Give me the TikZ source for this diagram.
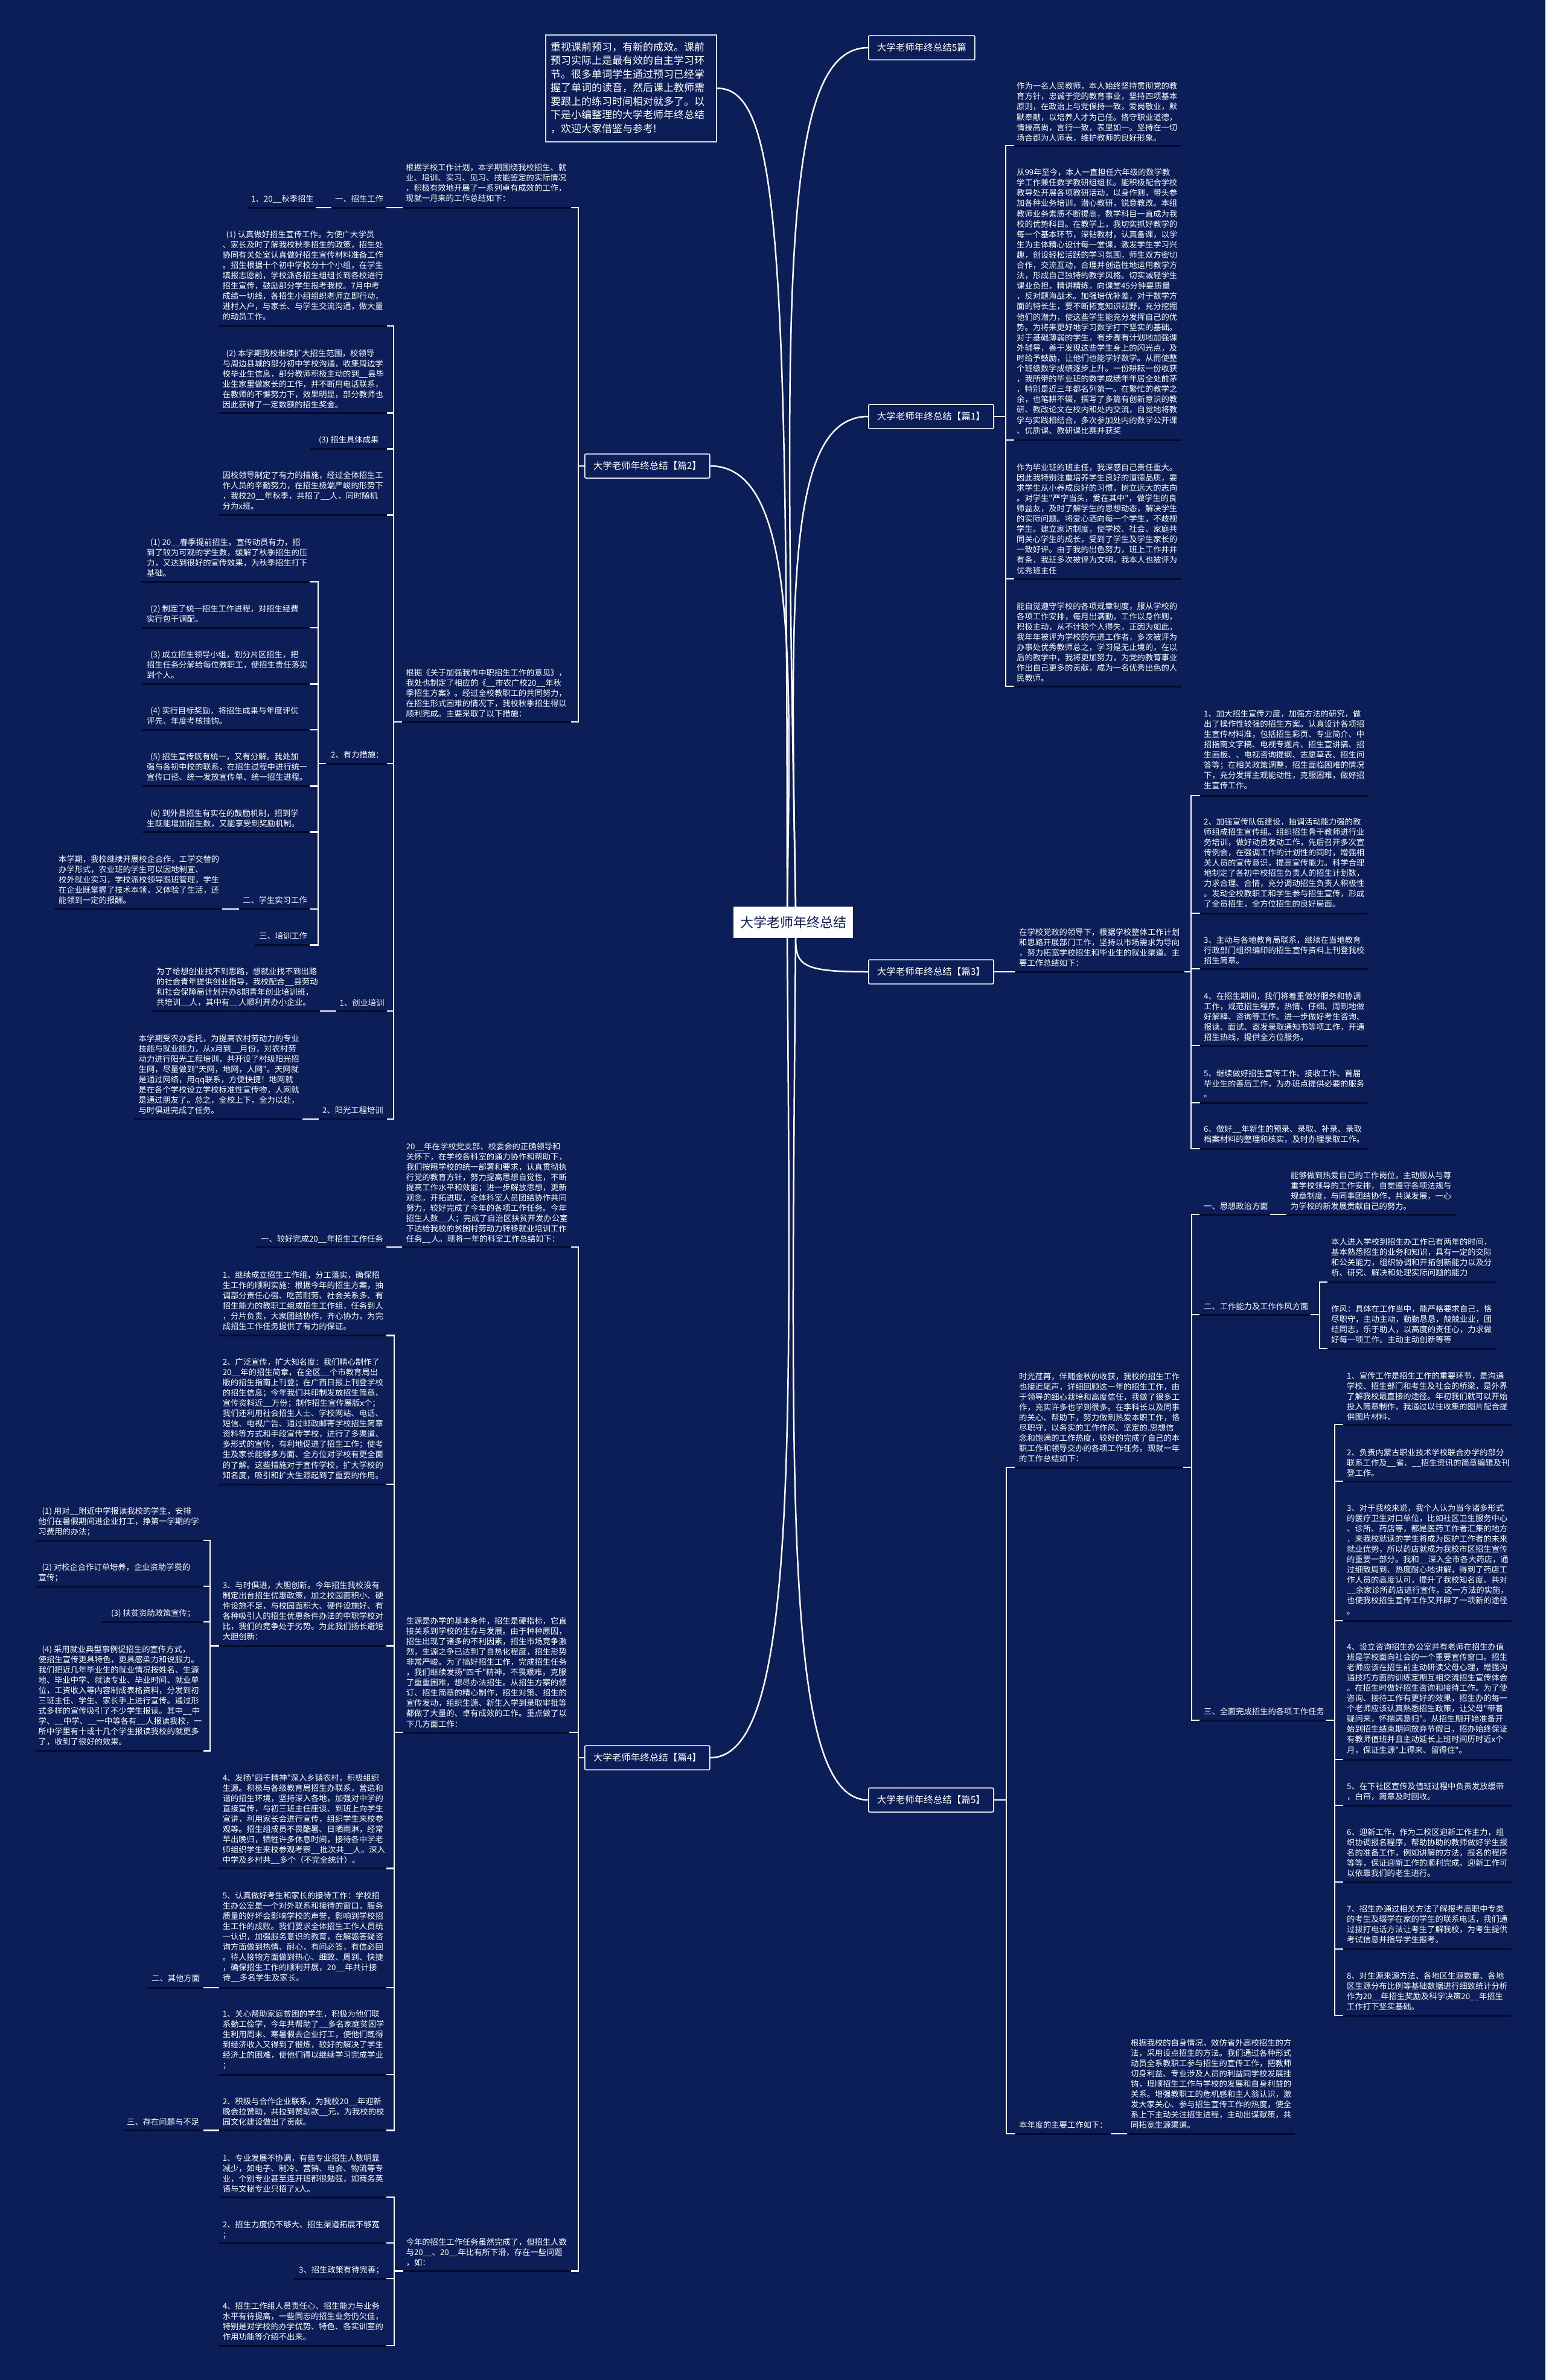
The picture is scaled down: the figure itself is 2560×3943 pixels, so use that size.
\documentclass[tikz,border=0pt]{standalone}
\usepackage{fontspec}
\setmainfont{Noto Sans CJK SC}
\newfontfamily\cjk{Noto Sans CJK SC}
\definecolor{bg}{HTML}{0C1E58}
\definecolor{ulc}{HTML}{030A2C}
\definecolor{boxline}{HTML}{D8DEF0}
\newcommand{\bodyfont}{\cjk\fontsize{13.3}{17.1}\selectfont}
\newcommand{\lvlfont}{\cjk\fontsize{15.5}{18}\selectfont}
\newcommand{\rootfont}{\cjk\fontsize{22}{26}\selectfont}
\newcommand{\introfont}{\cjk\fontsize{17}{22.5}\selectfont}
\tikzset{
  wline/.style={draw=white, line width=2.5pt, line cap=rect},
  ulline/.style={draw=ulc, line width=3pt},
  curve/.style={draw=white, line width=2.5pt},
  lvl/.style={draw=white, line width=1.5pt, fill=bg, text=white, font=\lvlfont, inner xsep=14pt, minimum height=40pt, rounded corners=2pt},
  rootnode/.style={fill=white, text=bg, font=\rootfont, inner xsep=11pt, minimum height=52pt, minimum width=198pt},
  txt/.style={text=white, inner sep=0pt, anchor=base west},
}
\newcommand{\para}[4]{\node[txt] (#1) at (#2,#3+5) {\begin{minipage}[t]{560pt}\bodyfont\raggedright #4\end{minipage}};}
\newcommand{\ULine}[3]{\draw[ulline] (#1,#3) -- (#2,#3);}
\newcommand{\WLine}[3]{\draw[wline] (#1,#3) -- (#2,#3);}
\newcommand{\VBar}[3]{\draw[wline] (#1,#2) -- (#1,#3);}
\begin{document}
\begin{tikzpicture}[x=1pt,y=-1pt]
\useasboundingbox (0,0) rectangle (2560,3943);
\fill[bg] (0,0) rectangle (2560,3943);

% ---------- root and level-1 ----------
\node[rootnode] (root) at (1314,1528) {大学老师年终总结};
\node[lvl, anchor=west] (b0) at (1438,79) {大学老师年终总结5篇};
\node[lvl, anchor=west] (b1) at (1438,690) {大学老师年终总结【篇1】};
\node[lvl, anchor=west] (b3) at (1438,1610) {大学老师年终总结【篇3】};
\node[lvl, anchor=west] (b5) at (1438,2982) {大学老师年终总结【篇5】};
\node[lvl, anchor=west] (b2) at (968,772) {大学老师年终总结【篇2】};
\node[lvl, anchor=west] (b4) at (968,2912) {大学老师年终总结【篇4】};

\node[draw=boxline, line width=1.5pt, fill=bg, anchor=north west, minimum width=283pt, minimum height=177pt, inner sep=0pt] (intro) at (903,57) {};
\node[txt] (introtext) at (912,78+6) {\begin{minipage}[t]{300pt}\introfont\raggedright 重视课前预习，有新的成效。课前\\预习实际上是最有效的自主学习环\\节。很多单词学生通过预习已经掌\\握了单词的读音，然后课上教师需\\要跟上的练习时间相对就多了。以\\下是小编整理的大学老师年终总结\\，欢迎大家借鉴与参考!\end{minipage}};

\coordinate (rt) at (1318,1502);
\coordinate (rb) at (1318,1554);
\coordinate (lt) at (1304,1502);
\coordinate (lb) at (1304,1554);
\draw[curve] (intro.east) .. controls (1290,145) and (1304,400) .. (lt);
\draw[curve] (rt) .. controls (1300,500) and (1290,79) .. (b0.west);
\draw[curve] (rt) .. controls (1310,1000) and (1300,690) .. (b1.west);
\draw[curve] (rb) .. controls (1318,1600) and (1330,1610) .. (b3.west);
\draw[curve] (rb) .. controls (1310,2500) and (1300,2982) .. (b5.west);
\draw[curve] (lt) .. controls (1310,1100) and (1320,772) .. (b2.east);
\draw[curve] (lb) .. controls (1310,2400) and (1320,2912) .. (b4.east);

% ---------- 篇1 ----------
\para{p11}{1684}{142.7}{作为一名人民教师，本人始终坚持贯彻党的教\\育方针，忠诚于党的教育事业，坚持四项基本\\原则，在政治上与党保持一致，爱岗敬业，默\\默奉献，以培养人才为己任。恪守职业道德，\\情操高尚，言行一致，表里如一。坚持在一切\\场合都为人师表，维护教师的良好形象。}
\para{p12}{1684}{285.6}{从99年至今，本人一直担任六年级的数学教\\学工作兼任数学教研组组长。能积极配合学校\\教导处开展各项教研活动，以身作则，带头参\\加各种业务培训，潜心教研，锐意教改。本组\\教师业务素质不断提高，数学科目一直成为我\\校的优势科目。在教学上，我切实抓好教学的\\每一个基本环节，深钻教材，认真备课，以学\\生为主体精心设计每一堂课，激发学生学习兴\\趣，创设轻松活跃的学习氛围，师生双方密切\\合作，交流互动，合理并创造性地运用教学方\\法，形成自己独特的教学风格。切实减轻学生\\课业负担，精讲精练，向课堂45分钟要质量\\，反对题海战术。加强培优补差，对于数学方\\面的特长生，要不断拓宽知识视野，充分挖掘\\他们的潜力，使这些学生能充分发挥自己的优\\势。为将来更好地学习数学打下坚实的基础。\\对于基础薄弱的学生，有步骤有计划地加强课\\外辅导，善于发现这些学生身上的闪光点，及\\时给予鼓励，让他们也能学好数学。从而使整\\个班级数学成绩逐步上升。一份耕耘一份收获\\，我所带的毕业班的数学成绩年年居全处前茅\\，特别是近三年都名列第一。在繁忙的教学之\\余，也笔耕不辍，撰写了多篇有创新意识的教\\研、教改论文在校内和处内交流，自觉地将教\\学与实践相结合，多次参加处内的数学公开课\\、优质课、教研课比赛并获奖}
\para{p13}{1684}{774}{作为毕业班的班主任，我深感自己责任重大。\\因此我特别注重培养学生良好的道德品质，要\\求学生从小养成良好的习惯，树立远大的志向\\。对学生"严字当头，爱在其中"，做学生的良\\师益友，及时了解学生的思想动态，解决学生\\的实际问题。将爱心洒向每一个学生，不歧视\\学生。建立家访制度，使学校、社会、家庭共\\同关心学生的成长，受到了学生及学生家长的\\一致好评。由于我的出色努力，班上工作井井\\有条，我班多次被评为文明，我本人也被评为\\优秀班主任}
\para{p14}{1684}{1004}{能自觉遵守学校的各项规章制度，服从学校的\\各项工作安排，每月出满勤，工作以身作则，\\积极主动，从不计较个人得失，正因为如此，\\我年年被评为学校的先进工作者，多次被评为\\办事处优秀教师总之，学习是无止境的，在以\\后的教学中，我将更加努力，为党的教育事业\\作出自己更多的贡献，成为一名优秀出色的人\\民教师。}
\foreach \y in {241,729,959,1137}{\ULine{1679}{1957}{\y}}
\VBar{1666}{241}{1137}
\foreach \y in {241,729,959,1137}{\WLine{1666}{1679}{\y}}
\draw[wline] (b1.east) -- (1666,690);

% ---------- 篇3 ----------
\para{p3i}{1688}{1544}{在学校党政的领导下，根据学校整体工作计划\\和思路开展部门工作，坚持以市场需求为导向\\，努力拓宽学校招生和毕业生的就业渠道。主\\要工作总结如下：}
\para{p31}{1994}{1182}{1、加大招生宣传力度，加强方法的研究，做\\出了操作性较强的招生方案。认真设计各项招\\生宣传材料准，包括招生彩页、专业简介、中\\招指南文字稿、电视专题片、招生宣讲搞、招\\生画板、、电视咨询提纲、志愿草表、招生问\\答等；在相关政策调整，招生面临困难的情况\\下，充分发挥主观能动性，克服困难，做好招\\生宣传工作。}
\para{p32}{1994}{1361}{2、加强宣传队伍建设，抽调活动能力强的教\\师组成招生宣传组。组织招生骨干教师进行业\\务培训，做好动员发动工作，先后召开多次宣\\传例会，在强调工作的计划性的同时，增强相\\关人员的宣传意识，提高宣传能力。科学合理\\地制定了各初中校招生负责人的招生计划数，\\力求合理、合情，充分调动招生负责人积极性\\。发动全校教职工和学生参与招生宣传，形成\\了全员招生，全方位招生的良好局面。}
\para{p33}{1994}{1557}{3、主动与各地教育局联系，继续在当地教育\\行政部门组织编印的招生宣传资料上刊登我校\\招生简章。}
\para{p34}{1994}{1650}{4、在招生期间，我们将着重做好服务和协调\\工作，规范招生程序，热情、仔细、周到地做\\好解释、咨询等工作。进一步做好考生咨询、\\报读、面试、寄发录取通知书等项工作，开通\\招生热线，提供全方位服务。}
\para{p35}{1994}{1778}{5、继续做好招生宣传工作、接收工作、首届\\毕业生的善后工作，为办班点提供必要的服务\\。}
\para{p36}{1994}{1870}{6、做好\_\_年新生的预录、录取、补录、录取\\档案材料的整理和核实，及时办理录取工作。}
\ULine{1680}{1963}{1610}
\foreach \y in {1318,1513,1605,1732,1827,1903}{\ULine{1987}{2266}{\y}}
\draw[wline] (b3.east) -- (1680,1610);
\WLine{1963}{1973}{1610}
\VBar{1973}{1318}{1903}
\foreach \y in {1318,1513,1605,1732,1827,1903}{\WLine{1973}{1987}{\y}}

% ---------- 篇5 ----------
\para{p5i}{1688}{2280}{时光荏苒，伴随金秋的收获，我校的招生工作\\也接近尾声，详细回顾这一年的招生工作，由\\于领导的细心栽培和高度信任，我做了很多工\\作，充实许多也学到很多。在李科长以及同事\\的关心、帮助下，努力做到热爱本职工作，恪\\尽职守，以务实的工作作风、坚定的.思想信\\念和饱满的工作热度，较好的完成了自己的本\\职工作和领导交办的各项工作任务。现就一年\\的工作总结如下：}
\para{p5a}{1994}{1998}{一、思想政治方面}
\para{p5ac}{2138}{1947}{能够做到热爱自己的工作岗位，主动服从与尊\\重学校领导的工作安排，自觉遵守各项法规与\\规章制度，与同事团结协作，共谋发展，一心\\为学校的新发展贡献自己的努力。}
\para{p5b}{1994}{2164}{二、工作能力及工作作风方面}
\para{p5b1}{2205}{2057}{本人进入学校到招生办工作已有两年的时间，\\基本熟悉招生的业务和知识，具有一定的交际\\和公关能力，组织协调和开拓创新能力以及分\\析、研究、解决和处理实际问题的能力}
\para{p5b2}{2205}{2168}{作风：具体在工作当中，能严格要求自己，恪\\尽职守，主动主动，勤勤恳恳，兢兢业业，团\\结同志，乐于助人，以高度的责任心，力求做\\好每一项工作。主动主动创新等等}
\para{p5c}{1994}{2835}{三、全面完成招生的各项工作任务}
\para{p5c1}{2231}{2279}{1、宣传工作是招生工作的重要环节，是沟通\\学校、招生部门和考生及社会的桥梁，是外界\\了解我校最直接的途径。年初我们就可以开始\\投入简章制作，我通过以往收集的图片配合提\\供图片材料，}
\para{p5c2}{2231}{2406}{2、负责内蒙古职业技术学校联合办学的部分\\联系工作及\_\_省、\_\_招生资讯的简章编辑及刊\\登工作。}
\para{p5c3}{2231}{2498}{3、对于我校来说，我个人认为当今诸多形式\\的医疗卫生对口单位，比如社区卫生服务中心\\、诊所、药店等，都是医药工作者汇集的地方\\，来我校就读的学生将成为医护工作者的未来\\就业优势，所以药店就成为我校市区招生宣传\\的重要一部分。我和\_\_深入全市各大药店，通\\过细致周到、热度耐心地讲解，得到了药店工\\作人员的高度认可，提升了我校知名度。共对\\\_\_余家诊所药店进行宣传。这一方法的实施，\\也使我校招生宣传工作又开辟了一项新的途径\\。}
\para{p5c4}{2231}{2728}{4、设立咨询招生办公室并有老师在招生办值\\班是学校面向社会的一个重要宣传窗口。招生\\老师应该在招生前主动研读父母心理，增强沟\\通技巧方面的训练定期互相交流招生宣传体会\\。在招生时做好招生咨询和接待工作。为了使\\咨询、接待工作有更好的效果，招生办的每一\\个老师应该认真熟悉招生政策，让父母"带着\\疑问来，怀揣满意归"。从招生期开始准备开\\始到招生结束期间放弃节假日，招办始终保证\\有教师值班并且主动延长上班时间历时近x个\\月，保证生源"上得来、留得住"。}
\para{p5c5}{2231}{2959}{5、在下社区宣传及值班过程中负责发放缓带\\，白帘，简章及时回收。}
\para{p5c6}{2231}{3035}{6、迎新工作，作为二校区迎新工作主力，组\\织协调报名程序，帮助协助的教师做好学生报\\名的准备工作，例如讲解的方法，报名的程序\\等等，保证迎新工作的顺利完成。迎新工作可\\以依靠我们的老生进行。}
\para{p5c7}{2231}{3162}{7、招生办通过相关方法了解报考高职中专类\\的考生及辍学在家的学生的联系电话，我们通\\过拔打电话方法让考生了解我校，为考生提供\\考试信息并指导学生报考。}
\para{p5c8}{2231}{3273}{8、对生源来源方法、各地区生源数量、各地\\区生源分布比例等基础数据进行细致统计分析\\作为20\_\_年招生奖励及科学决策20\_\_年招生\\工作打下坚实基础。}
\para{p5d}{1688}{3520}{本年度的主要工作如下：}
\para{p5dc}{1873}{3384}{根据我校的自身情况，效仿省外高校招生的方\\法，采用设点招生的方法。我们通过各种形式\\动员全系教职工参与招生的宣传工作，把教师\\切身利益、专业涉及人员的利益同学校发展挂\\钩，理顺招生工作与学校的发展和自身利益的\\关系。增强教职工的危机感和主人翁认识，激\\发大家关心、参与招生宣传工作的热度，使全\\系上下主动关注招生进程，主动出谋献策，共\\同拓宽生源渠道。}
\ULine{1680}{1961}{2431}
\ULine{1986}{2105}{2012}
\ULine{2130}{2411}{2012}
\ULine{1986}{2172}{2178}
\ULine{2198}{2477}{2124}
\ULine{2198}{2477}{2234}
\ULine{1986}{2197}{2850}
\foreach \y in {2360,2454,2685,2915,2991,3118,3229,3339}{\ULine{2224}{2504}{\y}}
\ULine{1680}{1841}{3535}
\ULine{1866}{2145}{3535}
\draw[wline] (b5.east) -- (1667,2982);
\VBar{1667}{2431}{3535}
\WLine{1667}{1680}{2431}
\WLine{1667}{1680}{3535}
\WLine{1961}{1974}{2431}
\VBar{1974}{2012}{2850}
\WLine{1974}{1986}{2012}
\WLine{1974}{1986}{2178}
\WLine{1974}{1986}{2850}
\WLine{2105}{2130}{2012}
\WLine{2172}{2186}{2178}
\VBar{2186}{2124}{2234}
\WLine{2186}{2198}{2124}
\WLine{2186}{2198}{2234}
\WLine{2197}{2211}{2850}
\VBar{2211}{2360}{3339}
\foreach \y in {2360,2454,2685,2915,2991,3118,3229,3339}{\WLine{2211}{2224}{\y}}
\WLine{1841}{1866}{3535}

% ---------- 篇2 ----------
\para{p2t}{672}{277.5}{根据学校工作计划，本学期围绕我校招生、就\\业、培训、实习、见习、技能鉴定的实际情况\\，积极有效地开展了一系列卓有成效的工作，\\现就一月来的工作总结如下：}
\para{p2t1}{555}{329}{一、招生工作}
\para{p2t2}{416}{329}{1、20\_\_秋季招生}
\para{p2g}{672.5}{1114}{根据《关于加强我市中职招生工作的意见》，\\我处也制定了相应的《\_\_市农广校20\_\_年秋\\季招生方案》。经过全校教职工的共同努力，\\在招生形式困难的情况下，我校秋季招生得以\\顺利完成。主要采取了以下措施：}
\para{p2g1}{368.5}{388}{\hspace*{6pt}(1) 认真做好招生宣传工作。为使广大学员\\、家长及时了解我校秋季招生的政策，招生处\\协同有关处室认真做好招生宣传材料准备工作\\。招生根据十个初中学校分十个小组，在学生\\填报志愿前，学校派各招生组组长到各校进行\\招生宣传，鼓励部分学生报考我校。7月中考\\成绩一切线，各招生小组组织老师立即行动，\\进村入户，与家长、与学生交流沟通，做大量\\的动员工作。}
\para{p2g2}{368.5}{585}{\hspace*{6pt}(2) 本学期我校继续扩大招生范围，校领导\\与周边县城的部分初中学校沟通，收集周边学\\校毕业生信息，部分教师积极主动的到\_\_县毕\\业生家里做家长的工作，并不断用电话联系，\\在教师的不懈努力下，效果明显，部分教师也\\因此获得了一定数额的招生奖金。}
\para{p2g3}{528}{728.6}{(3) 招生具体成果}
\para{p2g4}{368.5}{787.5}{因校领导制定了有力的措施，经过全体招生工\\作人员的辛勤努力，在招生极端严峻的形势下\\，我校20\_\_年秋季，共招了\_\_人，同时随机\\分为x班。}
\para{p2g5}{548}{1250}{2、有力措施：}
\para{p2m1}{243}{898}{\hspace*{6pt}(1) 20\_\_春季提前招生，宣传动员有力，招\\到了较为可观的学生数，缓解了秋季招生的压\\力，又达到很好的宣传效果，为秋季招生打下\\基础。}
\para{p2m2}{243}{1008.6}{\hspace*{6pt}(2) 制定了统一招生工作进程，对招生经费\\实行包干调配。}
\para{p2m3}{243}{1084.6}{\hspace*{6pt}(3) 成立招生领导小组，划分片区招生，把\\招生任务分解给每位教职工，使招生责任落实\\到个人。}
\para{p2m4}{243}{1177.5}{\hspace*{6pt}(4) 实行目标奖励，将招生成果与年度评优\\评先、年度考核挂钩。}
\para{p2m5}{243}{1253.6}{\hspace*{6pt}(5) 招生宣传既有统一，又有分解。我处加\\强与各初中校的联系，在招生过程中进行统一\\宣传口径、统一发放宣传单、统一招生进程。}
\para{p2m6}{243}{1347.6}{\hspace*{6pt}(6) 到外县招生有实在的鼓励机制，招到学\\生既能增加招生数，又能享受到奖励机制。}
\para{p2m7}{402}{1491.5}{二、学生实习工作}
\para{p2m7c}{97}{1423}{本学期，我校继续开展校企合作，工学交替的\\办学形式，农业班的学生可以因地制宜、\\校外就业实习，学校派校领导跟班管理，学生\\在企业既掌握了技术本领，又体验了生活，还\\能领到一定的报酬。}
\para{p2m8}{429}{1550}{三、培训工作}
\para{p2g6}{562.5}{1661}{1、创业培训}
\para{p2g6c}{259}{1609.6}{为了给想创业找不到思路，想就业找不到出路\\的社会青年提供创业指导，我校配合\_\_县劳动\\和社会保障局计划开办8期青年创业培训班，\\共培训\_\_人，其中有\_\_人顺利开办小企业。}
\para{p2g7}{534}{1839}{2、阳光工程培训}
\para{p2g7c}{229.5}{1720}{本学期受农办委托，为提高农村劳动力的专业\\技能与就业能力，从x月到\_\_月份，对农村劳\\动力进行阳光工程培训，共开设了村级阳光招\\生网，尽量做到"天网，地网，人网"。天网就\\是通过网络，用qq联系，方便快捷！地网就\\是在各个学校设立学校标准性宣传物，人网就\\是通过朋友了。总之，全校上下，全力以赴，\\与时俱进完成了任务。}
\ULine{666}{947}{344}
\ULine{548}{641}{344}
\ULine{409}{524}{344}
\ULine{665}{947}{1196}
\foreach \y in {540,684.6,853.6}{\ULine{362}{642}{\y}}
\ULine{514}{642}{743.6}
\ULine{539}{642}{1265}
\ULine{556}{642}{1675}
\ULine{527}{642}{1854}
\foreach \y in {964,1040,1133.6,1209,1302.5,1378.6}{\ULine{235}{514}{\y}}
\ULine{396.5}{514}{1506}
\ULine{90}{369}{1506}
\ULine{422}{514}{1565.5}
\ULine{251.6}{531.5}{1675}
\ULine{222}{502}{1854}
\draw[wline] (b2.west) -- (958,772);
\VBar{958}{344}{1196}
\WLine{947}{958}{344}
\WLine{947}{958}{1196}
\WLine{641}{666}{344}
\WLine{524}{548}{344}
\VBar{652}{540}{1854}
\WLine{652}{665}{1196}
\foreach \y in {540,684.6,743.6,853.6,1265,1675,1854}{\WLine{642}{652}{\y}}
\WLine{527}{539}{1265}
\VBar{527}{964}{1565.5}
\foreach \y in {964,1040,1133.6,1209,1302.5,1378.6,1506,1565.5}{\WLine{514}{527}{\y}}
\WLine{369}{395}{1506}
\WLine{531.5}{556}{1675}
\WLine{502}{527}{1854}

% ---------- 篇4 ----------
\para{p4u}{672.6}{1899}{20\_\_年在学校党支部、校委会的正确领导和\\关怀下，在学校各科室的通力协作和帮助下，\\我们按照学校的统一部署和要求，认真贯彻执\\行党的教育方针，努力提高思想自觉性，不断\\提高工作水平和效能；进一步解放思想，更新\\观念，开拓进取，全体科室人员团结协作共同\\努力，较好完成了今年的各项工作任务。今年\\招生人数\_\_人；完成了自治区扶贫开发办公室\\下达给我校的贫困村劳动力转移就业培训工作\\任务\_\_人。现将一年的科室工作总结如下：}
\para{p4u1}{432}{2052}{一、较好完成20\_\_年招生工作任务}
\para{p4v}{672.6}{2685}{生源是办学的基本条件，招生是硬指标，它直\\接关系到学校的生存与发展。由于种种原因，\\招生出现了诸多的不利因素，招生市场竞争激\\烈，生源之争已达到了自热化程度，招生形势\\非常严峻。为了搞好招生工作，完成招生任务\\，我们继续发扬"四千"精神，不畏艰难，克服\\了重重困难，想尽办法招生。从招生方案的修\\订、招生简章的精心制作，招生对策、招生的\\宣传发动，组织生源、新生入学到录取审批等\\都做了大量的、卓有成效的工作。重点做了以\\下几方面工作：}
\para{p4v1}{368.6}{2112}{1、继续成立招生工作组，分工落实，确保招\\生工作的顺利实施：根据今年的招生方案，抽\\调部分责任心强、吃苦耐劳、社会关系多、有\\招生能力的教职工组成招生工作组，任务到人\\，分片负责，大家团结协作，齐心协力，为完\\成招生工作任务提供了有力的保证。}
\para{p4v2}{368.6}{2256}{2、广泛宣传，扩大知名度：我们精心制作了\\20\_\_年的招生简章，在全区\_\_个市教育局出\\版的招生指南上刊登；在广西日报上刊登学校\\的招生信息；今年我们共印制发放招生简章、\\宣传资料近\_\_万份；制作招生宣传展版x个；\\我们还利用社会招生人士、学校网站、电话、\\短信、电视广告、通过邮政邮寄学校招生简章\\资料等方式和手段宣传学校，进行了多渠道、\\多形式的宣传，有利地促进了招生工作；使考\\生及家长能够多方面、全方位对学校有更全面\\的了解。这些措施对于宣传学校，扩大学校的\\知名度，吸引和扩大生源起到了重要的作用。}
\para{p4v3}{368.6}{2626}{3、与时俱进，大胆创新。今年招生我校没有\\制定出台招生优惠政策，加之校园面积小、硬\\件设施不足，与校园面积大、硬件设施好、有\\各种吸引人的招生优惠条件办法的中职学校对\\比，我们的竞争处于劣势。为此我们扬长避短\\大胆创新：}
\para{p4v31}{63.5}{2503}{\hspace*{6pt}(1) 用对\_\_附近中学报读我校的学生，安排\\他们在暑假期间进企业打工，挣第一学期的学\\习费用的办法；}
\para{p4v32}{63.5}{2596.6}{\hspace*{6pt}(2) 对校企合作订单培养，企业资助学费的\\宣传；}
\para{p4v33}{184}{2672.5}{(3) 扶贫资助政策宣传；}
\para{p4v34}{63.5}{2732}{\hspace*{6pt}(4) 采用就业典型事例促招生的宣传方式，\\使招生宣传更具特色，更具感染力和说服力。\\我们把近几年毕业生的就业情况按姓名、生源\\地、毕业中学、就读专业、毕业时间、就业单\\位，工资收入等内容制成表格资料，分发到初\\三班主任、学生、家长手上进行宣传。通过形\\式多样的宣传吸引了不少学生报读。其中\_\_中\\学、\_\_中学、\_\_一中等各有\_\_人报读我校，一\\所中学里有十或十几个学生报读我校的就更多\\了，收到了很好的效果。}
\para{p4v4}{368.6}{2945}{4、发扬"四千精神"深入乡镇农村，积极组织\\生源。积极与各级教育局招生办联系，营造和\\谐的招生环境，坚持深入各地，加强对中学的\\直接宣传，与初三班主任座谈、到班上向学生\\宣讲，利用家长会进行宣传，组织学生来校参\\观等。招生组成员不畏酷暑、日晒雨淋，经常\\早出晚归，牺牲许多休息时间，接待各中学老\\师组织学生来校参观考察\_\_批次共\_\_人。深入\\中学及乡村共\_\_多个（不完全统计）。}
\para{p4v5}{368.6}{3140}{5、认真做好考生和家长的接待工作：学校招\\生办公室是一个对外联系和接待的窗口，服务\\质量的好坏会影响学校的声誉，影响到学校招\\生工作的成败。我们要求全体招生工作人员统\\一认识，加强服务意识的教育，在解惑答疑咨\\询方面做到热情、耐心，有问必答，有信必回\\。待人接物方面做到热心、细致、周到、快捷\\，确保招生工作的顺利开展，20\_\_年共计接\\待\_\_多名学生及家长。}
\para{p4v5c}{251}{3277}{二、其他方面}
\para{p4v6}{368.6}{3336}{1、关心帮助家庭贫困的学生，积极为他们联\\系勤工俭学，今年共帮助了\_\_多名家庭贫困学\\生利用周末、寒暑假去企业打工，使他们既得\\到经济收入又得到了锻炼，较好的解决了学生\\经济上的困难，使他们得以继续学习完成学业\\；}
\para{p4v7}{368.6}{3481}{2、积极与合作企业联系，为我校20\_\_年迎新\\晚会拉赞助，共拉到赞助款\_\_元，为我校的校\\园文化建设做出了贡献。}
\para{p4v7c}{210}{3515}{三、存在问题与不足}
\para{p4w}{672.6}{3714}{今年的招生工作任务虽然完成了，但招生人数\\与20\_\_、20\_\_年比有所下滑，存在一些问题\\，如：}
\para{p4w1}{368.6}{3575}{1、专业发展不协调，有些专业招生人数明显\\减少，如电子、制冷、营销、电会、物流等专\\业，个别专业甚至连开班都很勉强，如商务英\\语与文秘专业只招了x人。}
\para{p4w2}{368.6}{3685}{2、招生力度仍不够大、招生渠道拓展不够宽\\；}
\para{p4w3}{495}{3760}{3、招生政策有待完善；}
\para{p4w4}{368.6}{3820}{4、招生工作组人员责任心、招生能力与业务\\水平有待提高，一些同志的招生业务仍欠佳，\\特别是对学校的办学优势、特色、各实训室的\\作用功能等介绍不出来。}
\ULine{665}{947}{2066}
\ULine{424}{641.5}{2066}
\ULine{667}{944}{2870}
\foreach \y in {2212.4,2459,2726.5,3095.7,3293,3437,3529.7}{\ULine{361.6}{641.5}{\y}}
\foreach \y in {2552,2628,2900.6}{\ULine{57.6}{338}{\y}}
\ULine{169}{338}{2687}
\ULine{244}{338}{3293}
\ULine{204}{338}{3529.7}
\ULine{667}{947}{3762.6}
\foreach \y in {3640,3716,3886}{\ULine{361.6}{641.5}{\y}}
\ULine{487}{641.5}{3775}
\draw[wline] (b4.west) -- (958,2912);
\VBar{958}{2066}{3762.6}
\WLine{947}{958}{2066}
\WLine{944}{958}{2870}
\WLine{947}{958}{3762.6}
\WLine{641.5}{665}{2066}
\VBar{653}{2212.4}{3529.7}
\WLine{653}{667}{2870}
\foreach \y in {2212.4,2459,2726.5,3095.7,3293,3437,3529.7}{\WLine{641.5}{653}{\y}}
\VBar{348}{2552}{2900.6}
\WLine{348}{361.6}{2726.5}
\foreach \y in {2552,2628,2687,2900.6}{\WLine{338}{348}{\y}}
\WLine{338}{361.6}{3293}
\WLine{338}{361.6}{3529.7}
\VBar{653}{3640}{3886}
\WLine{653}{667}{3762.6}
\foreach \y in {3640,3716,3775,3886}{\WLine{641.5}{653}{\y}}
\end{tikzpicture}
\end{document}
